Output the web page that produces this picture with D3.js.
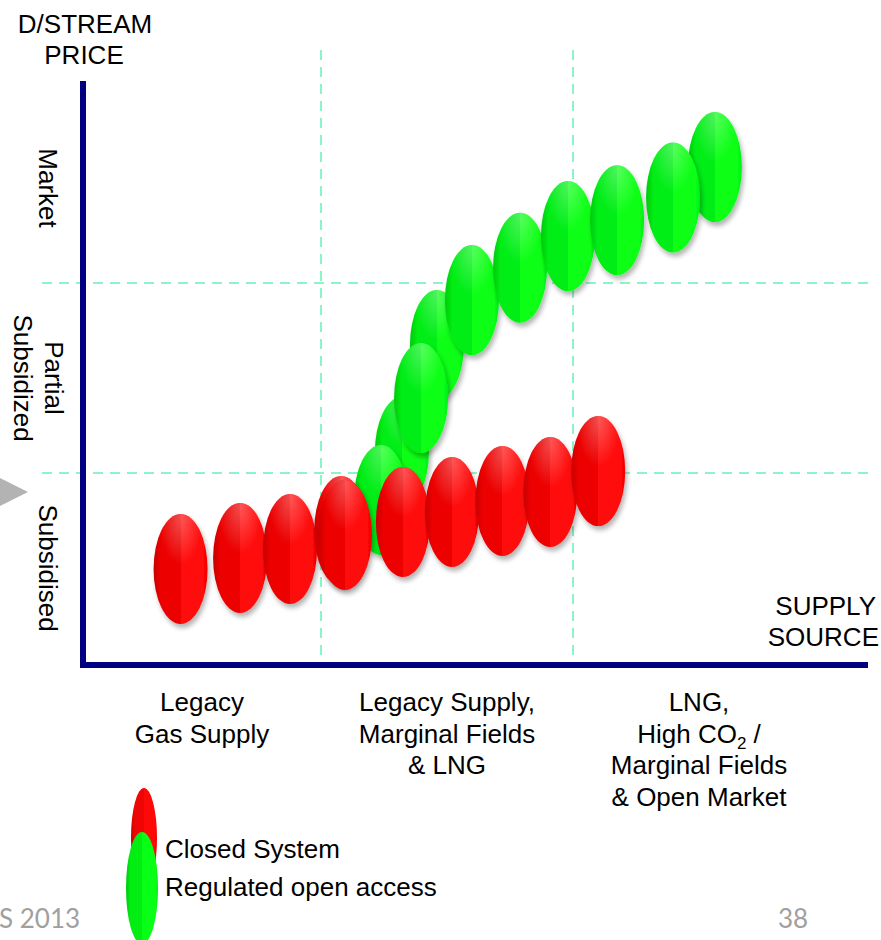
<!DOCTYPE html>
<meta charset="utf-8">
<script src="https://d3js.org/d3.v7.min.js"></script>
<style>
  body { margin: 0; background: #fff; }
  text { font-family: "Liberation Sans", Arial, sans-serif; }
</style>
<div id="chart"></div>
<script>

// price bands (bottom to top) and supply categories (left to right)
var priceBands = [["Subsidised"], ["Partial", "Subsidized"], ["Market"]];
var supplyCats = [
  ["Legacy", "Gas Supply"],
  ["Legacy Supply,", "Marginal Fields", "& LNG"],
  ["LNG,", "High CO2 /", "Marginal Fields", "& Open Market"]
];

// closed system (red) positions: supply index, price index
var closedX = [0.41, 0.66, 0.87, 1.08, 1.095, 1.325, 1.52, 1.72, 1.91, 2.10];
var closedY = [0.495, 0.553, 0.60, 0.695, 0.674, 0.742, 0.795, 0.853, 0.90, 1.01];

// regulated open access (green), listed back to front
var openX = [1.321, 1.46, 1.238, 1.397, 1.599, 1.79, 1.98, 2.175, 2.563, 2.397];
var openY = [1.111, 1.674, 0.858, 1.395, 1.91, 2.08, 2.247, 2.33, 2.61, 2.45];

var legendNames = ["Closed System", "Regulated open access"];

var width = 881, height = 940;

var svg = d3.select("#chart")
  .append("svg")
    .attr("width", width)
    .attr("height", height);

var x = d3.scaleLinear()
  .domain([0, 1, 2, 3])
  .range([83, 321, 573, 825]);

var y = d3.scaleLinear()
  .domain([0, 3])
  .range([663, 93]);

var defs = svg.append("defs");

// soft drop shadow under each ellipse
var shadow = defs.append("filter")
    .attr("id", "shadow")
    .attr("x", "-30%").attr("y", "-20%")
    .attr("width", "160%").attr("height", "150%");
shadow.append("feGaussianBlur").attr("in", "SourceAlpha").attr("stdDeviation", 2.5);
shadow.append("feOffset").attr("dx", 2).attr("dy", 4).attr("result", "off");
shadow.append("feComponentTransfer").append("feFuncA").attr("type", "linear").attr("slope", 0.3);
var merge = shadow.append("feMerge");
merge.append("feMergeNode");
merge.append("feMergeNode").attr("in", "SourceGraphic");

function makeGrad(id, dark, mid, light, edge) {
  var g = defs.append("linearGradient").attr("id", id)
    .attr("x1", "0%").attr("x2", "100%").attr("y1", "0%").attr("y2", "0%");
  g.append("stop").attr("offset", "0%").attr("stop-color", dark);
  g.append("stop").attr("offset", "14%").attr("stop-color", mid);
  g.append("stop").attr("offset", "50%").attr("stop-color", mid);
  g.append("stop").attr("offset", "50%").attr("stop-color", light);
  g.append("stop").attr("offset", "92%").attr("stop-color", light);
  g.append("stop").attr("offset", "100%").attr("stop-color", edge);
}
makeGrad("redGrad", "#c80000", "#ec0606", "#ff0808", "#f00000");
makeGrad("greenGrad", "#00c810", "#02ee12", "#08ff16", "#00ee10");

var hi = defs.append("radialGradient").attr("id", "hilite")
  .attr("cx", "50%").attr("cy", "6%").attr("r", "40%")
  .attr("fx", "50%").attr("fy", "3%");
hi.append("stop").attr("offset", "0%").attr("stop-color", "#fff").attr("stop-opacity", 0.3);
hi.append("stop").attr("offset", "100%").attr("stop-color", "#fff").attr("stop-opacity", 0);

var rx = 27, ry = 55;

// dashed grid
var gridColor = "#8cf5c8";
svg.selectAll(".hgrid")
  .data([1, 2])
  .enter()
  .append("line")
    .attr("x1", 42).attr("x2", 868)
    .attr("y1", function(d) { return y(d); })
    .attr("y2", function(d) { return y(d); })
    .attr("stroke", gridColor)
    .attr("stroke-width", 2)
    .attr("stroke-dasharray", "10,7");

svg.selectAll(".vgrid")
  .data([1, 2])
  .enter()
  .append("line")
    .attr("x1", function(d) { return x(d); })
    .attr("x2", function(d) { return x(d); })
    .attr("y1", 50).attr("y2", 663)
    .attr("stroke", gridColor)
    .attr("stroke-width", 2)
    .attr("stroke-dasharray", "10,7");

// axes
svg.append("line")
  .attr("x1", x(0)).attr("x2", x(0))
  .attr("y1", 81).attr("y2", y(0) + 5)
  .attr("stroke", "#000080").attr("stroke-width", 6);
svg.append("line")
  .attr("x1", x(0) - 3).attr("x2", 868)
  .attr("y1", y(0) + 2).attr("y2", y(0) + 2)
  .attr("stroke", "#000080").attr("stroke-width", 6);

// ellipses
function drawPills(xs, ys, grad) {
  var g = svg.append("g");
  var pill = g.selectAll("g")
    .data(xs.map(function(d, i) { return {x: d, y: ys[i]}; }))
    .enter()
    .append("g")
      .attr("transform", function(d) { return "translate(" + x(d.x) + "," + y(d.y) + ")"; });
  pill.append("ellipse")
    .attr("rx", rx).attr("ry", ry)
    .attr("fill", "url(#" + grad + ")")
    .attr("filter", "url(#shadow)");
  pill.append("ellipse")
    .attr("rx", rx).attr("ry", ry)
    .attr("fill", "url(#hilite)");
}
drawPills(openX, openY, "greenGrad");
drawPills(closedX, closedY, "redGrad");

// y band labels, rotated
var ylab = svg.selectAll(".ylab")
  .data(priceBands)
  .enter()
  .append("text")
    .attr("transform", function(d, i) { return "translate(" + (i == 1 ? 45 : 39) + "," + y(i + 0.5) + ") rotate(90)"; })
    .attr("text-anchor", "middle")
    .style("font-size", "26px")
    .attr("fill", "#000");
ylab.selectAll("tspan")
  .data(function(d) { return d; })
  .enter()
  .append("tspan")
    .attr("x", 0)
    .attr("dy", function(d, i) { return i == 0 ? 0 : 31; })
    .text(function(d) { return d; });

// supply category labels
var xlab = svg.selectAll(".xlab")
  .data(supplyCats)
  .enter()
  .append("text")
    .attr("text-anchor", "middle")
    .attr("transform", function(d, i) { return "translate(" + ((x(i) + x(i + 1)) / 2) + ",711)"; })
    .style("font-size", "26px")
    .attr("fill", "#000");
xlab.each(function(lines) {
  var t = d3.select(this);
  lines.forEach(function(line, i) {
    var ts = t.append("tspan").attr("x", 0).attr("y", i * 31.5);
    if (line.indexOf("CO2") >= 0) {
      ts.text("High CO");
      t.append("tspan").attr("dy", 6).style("font-size", "17px").text("2");
      t.append("tspan").attr("dy", -6).text(" /");
    } else {
      ts.text(line);
    }
  });
});

// axis titles
svg.append("text")
  .attr("x", 85).attr("y", 33)
  .attr("text-anchor", "middle")
  .style("font-size", "26px")
  .text("D/STREAM");
svg.append("text")
  .attr("x", 84).attr("y", 64)
  .attr("text-anchor", "middle")
  .style("font-size", "26px")
  .text("PRICE");
svg.append("text")
  .attr("x", 876).attr("y", 615)
  .attr("text-anchor", "end")
  .style("font-size", "26px")
  .text("SUPPLY");
svg.append("text")
  .attr("x", 879).attr("y", 646)
  .attr("text-anchor", "end")
  .style("font-size", "26px")
  .text("SOURCE");

// grey slide marker on the left
svg.append("path")
  .attr("d", "M-10,473 L28,492 L-10,511 Z")
  .attr("fill", "#b3b3b3");

// legend
var leg = svg.append("g");
leg.append("ellipse")
  .attr("cx", 144).attr("cy", 838).attr("rx", 13).attr("ry", 50)
  .attr("fill", "url(#redGrad)");
leg.append("ellipse")
  .attr("cx", 142).attr("cy", 888).attr("rx", 16).attr("ry", 56)
  .attr("fill", "url(#greenGrad)");
leg.selectAll("text")
  .data(legendNames)
  .enter()
  .append("text")
    .attr("x", 165)
    .attr("y", function(d, i) { return 858 + i * 38; })
    .style("font-size", "26px")
    .text(function(d) { return d; });

// footer
svg.append("text")
  .attr("x", -1).attr("y", 928)
  .style("font-family", "Lato, sans-serif")
  .style("font-size", "26px")
  .attr("fill", "#a0a0a0")
  .text("S 2013");
svg.append("text")
  .attr("x", 778).attr("y", 928)
  .style("font-family", "Lato, sans-serif")
  .style("font-size", "26px")
  .attr("fill", "#a0a0a0")
  .text("38");

</script>
